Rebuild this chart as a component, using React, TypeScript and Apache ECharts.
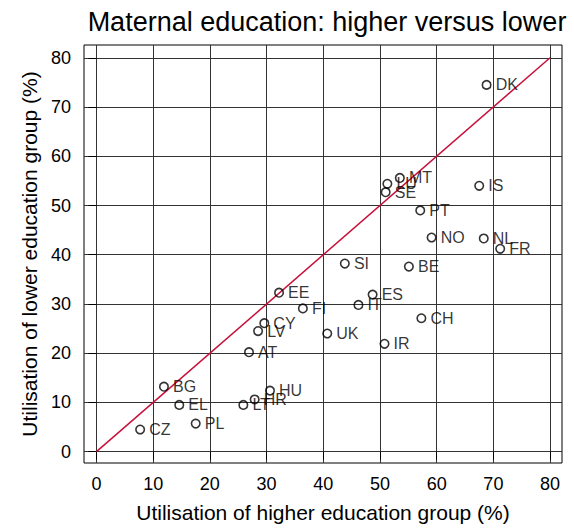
import React, { useEffect, useRef } from "react";
import * as echarts from "echarts";

const countries = ["DK", "MT", "LU", "SE", "IS", "PT", "NO", "NL", "FR", "SI", "BE", "ES", "EE", "FI", "IT", "CY", "LV", "UK", "CH", "IR", "AT", "BG", "HU", "HR", "LT", "EL", "PL", "CZ"];
const higherEdu = [68.8, 53.5, 51.3, 51.0, 67.5, 57.1, 59.1, 68.3, 71.2, 43.8, 55.1, 48.7, 32.2, 36.4, 46.2, 29.6, 28.5, 40.7, 57.3, 50.8, 26.9, 11.9, 30.6, 27.9, 25.9, 14.6, 17.5, 7.7];
const lowerEdu = [74.5, 55.6, 54.4, 52.7, 54.0, 49.0, 43.5, 43.3, 41.2, 38.2, 37.6, 31.9, 32.3, 29.1, 29.8, 26.1, 24.5, 24.0, 27.1, 21.9, 20.2, 13.2, 12.4, 10.6, 9.5, 9.5, 5.7, 4.5];
const tickValues = [0, 10, 20, 30, 40, 50, 60, 70, 80];
const equalityLine = [[0, 0], [80, 80]];

const FONT = "'Liberation Sans', Arial, Helvetica, sans-serif";

export default function App() {
  const ref = useRef<HTMLDivElement>(null);
  useEffect(() => {
    if (!ref.current) return;
    const chart = echarts.init(ref.current, null, { renderer: "svg" });
    const points = countries.map((c, i) => ({ name: c, value: [higherEdu[i], lowerEdu[i]] }));
    const axisCommon = {
      type: "value" as const,
      nameLocation: "middle" as const,
      nameTextStyle: { fontSize: 21, color: "#000", fontFamily: FONT },
      axisLine: { show: false },
      axisTick: { show: true, inside: false, length: 8, lineStyle: { color: "#000", width: 1 }, customValues: tickValues },
      axisLabel: { fontSize: 18, color: "#000", fontFamily: FONT, customValues: tickValues },
      splitLine: { show: true, lineStyle: { color: "#333", width: 1 } },
    };
    chart.setOption({
      animation: false,
      backgroundColor: "#fff",
      title: {
        text: "Maternal education: higher versus lower",
        left: 322,
        textAlign: "center",
        top: 3,
        textStyle: { fontSize: 27, fontWeight: "normal", color: "#000", fontFamily: FONT },
      },
      grid: {
        left: 84,
        right: 12,
        top: 45,
        bottom: 65,
        show: true,
        borderColor: "#000",
        borderWidth: 1,
        backgroundColor: "transparent",
        outerBoundsMode: "none",
      },
      xAxis: {
        ...axisCommon,
        name: "Utilisation of higher education group (%)",
        nameGap: 39,
        min: -2.2,
        max: 82.1,
        axisLabel: { ...axisCommon.axisLabel, margin: 12 },
      },
      yAxis: {
        ...axisCommon,
        name: "Utilisation of lower education group (%)",
        nameGap: 41,
        min: -2.3,
        max: 82.6,
        axisLabel: { ...axisCommon.axisLabel, margin: 13 },
      },
      series: [
        {
          type: "line",
          data: equalityLine,
          symbol: "none",
          lineStyle: { color: "#c8103a", width: 1.5 },
          silent: true,
          z: 2,
        },
        {
          type: "scatter",
          data: points,
          symbol: "circle",
          symbolSize: 8.5,
          itemStyle: { color: "rgba(0,0,0,0)", borderColor: "#000", borderWidth: 1.6 },
          label: {
            show: true,
            position: "right",
            distance: 4,
            formatter: "{b}",
            fontSize: 16,
            color: "#000",
            fontFamily: FONT,
          },
          z: 3,
        },
      ],
    });
    return () => chart.dispose();
  }, []);
  return <div ref={ref} style={{ position: "fixed", left: 0, top: 0, width: 574, height: 528 }} />;
}
